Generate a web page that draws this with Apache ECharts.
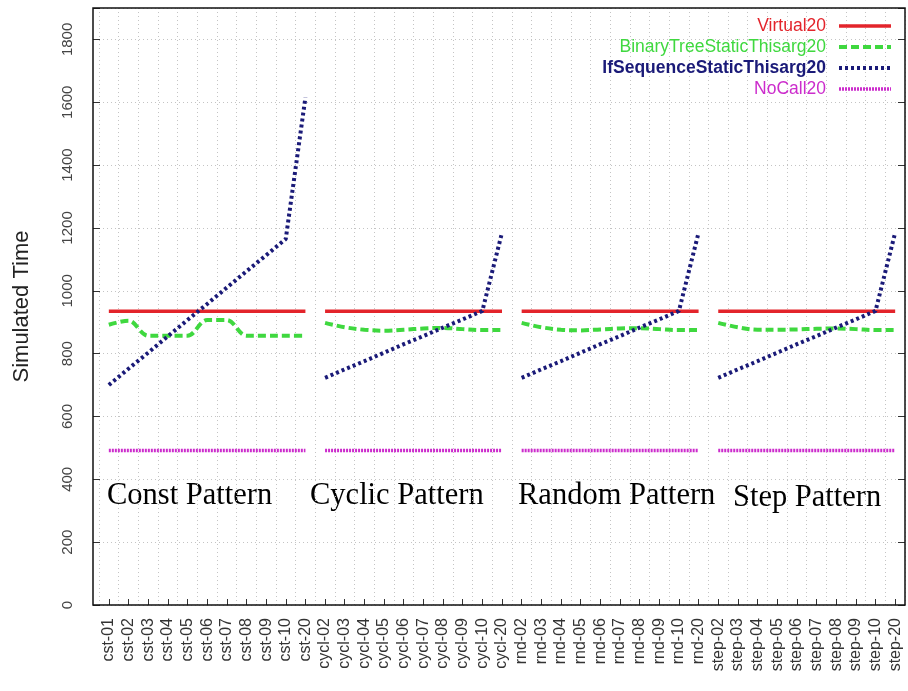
<!DOCTYPE html>
<html>
<head>
<meta charset="utf-8">
<script src="https://cdn.jsdelivr.net/npm/echarts@6/dist/echarts.min.js"></script>
<style>
html,body{margin:0;padding:0;background:#fff;}
#main{width:908px;height:691px;}
</style>
</head>
<body>
<div id="main"></div>
<script>
// categories per pattern group
var cstCats = ['cst-01','cst-02','cst-03','cst-04','cst-05','cst-06','cst-07','cst-08','cst-09','cst-10','cst-20'];
var cyclCats = ['cycl-02','cycl-03','cycl-04','cycl-05','cycl-06','cycl-07','cycl-08','cycl-09','cycl-10','cycl-20'];
var rndCats = ['rnd-02','rnd-03','rnd-04','rnd-05','rnd-06','rnd-07','rnd-08','rnd-09','rnd-10','rnd-20'];
var stepCats = ['step-02','step-03','step-04','step-05','step-06','step-07','step-08','step-09','step-10','step-20'];

// Virtual20
var virtCst = [935,935,935,935,935,935,935,935,935,935,935];
var virtCycl = [935,935,935,935,935,935,935,935,935,935];
var virtRnd = [935,935,935,935,935,935,935,935,935,935];
var virtStep = [935,935,935,935,935,935,935,935,935,935];
// BinaryTreeStaticThisarg20
var btCst = [892,905,857,857,857,907,907,857,857,857,857];
var btCycl = [898,884,876,873,876,880,882,878,875,875];
var btRnd = [898,884,876,874,877,880,881,878,875,875];
var btStep = [898,884,876,876,877,879,880,878,875,875];
// IfSequenceStaticThisarg20
var ifCst = [700,752,803,855,907,958,1010,1062,1113,1165,1615];
var ifCycl = [723,750,776,803,830,856,883,909,936,1185];
var ifRnd = [723,750,776,803,830,856,883,909,936,1185];
var ifStep = [723,750,776,803,830,856,883,909,936,1185];
// NoCall20
var ncCst = [492,492,492,492,492,492,492,492,492,492,492];
var ncCycl = [492,492,492,492,492,492,492,492,492,492];
var ncRnd = [492,492,492,492,492,492,492,492,492,492];
var ncStep = [492,492,492,492,492,492,492,492,492,492];

var yTicks = [0,200,400,600,800,1000,1200,1400,1600,1800];

var allCats = cstCats.concat(cyclCats, rndCats, stepCats);
var groupCats = [cstCats, cyclCats, rndCats, stepCats];

var seriesDefs = [
  {name:'Virtual20', color:'#e3242b', groups:[virtCst,virtCycl,virtRnd,virtStep], line:{width:3.5,type:'solid'}, smooth:false, bold:false},
  {name:'BinaryTreeStaticThisarg20', color:'#3fd83f', groups:[btCst,btCycl,btRnd,btStep], line:{width:4,type:[8,4]}, smooth:0.35, bold:false},
  {name:'IfSequenceStaticThisarg20', color:'#1a1a78', groups:[ifCst,ifCycl,ifRnd,ifStep], line:{width:4,type:[3,3]}, smooth:false, bold:true},
  {name:'NoCall20', color:'#cc2ccc', groups:[ncCst,ncCycl,ncRnd,ncStep], line:{width:3.5,type:[2,1]}, smooth:false, bold:false}
];

var series = [];
seriesDefs.forEach(function(d){
  d.groups.forEach(function(vals, gi){
    series.push({
      name: d.name,
      type: 'line',
      showSymbol: false,
      symbol: 'none',
      smooth: d.smooth,
      color: d.color,
      lineStyle: {color: d.color, width: d.line.width, type: d.line.type, cap: 'butt'},
      data: vals.map(function(v, i){ return [groupCats[gi][i], v]; }),
      animation: false
    });
  });
});

var myChart = echarts.init(document.getElementById('main'));
var option = {
  animation: false,
  backgroundColor: '#fff',
  grid: {left: 99, right: 3, top: 8, bottom: 86, show: false},
  legend: {
    orient: 'vertical',
    right: 10,
    top: 12,
    align: 'right',
    itemWidth: 52,
    itemHeight: 14,
    itemGap: 3,
    selectedMode: false,
    itemStyle: {opacity: 0},
    textStyle: {fontFamily: 'Liberation Sans', fontSize: 17.5, padding: [0, 8, 0, 0]},
    data: seriesDefs.map(function(d){
      return {
        name: d.name,
        textStyle: {color: d.color, fontWeight: d.bold ? 'bold' : 'normal'},
        lineStyle: {color: d.color, width: d.line.width, type: d.line.type}
      };
    })
  },
  xAxis: {
    type: 'category',
    data: allCats,
    boundaryGap: true,
    axisLine: {show: false},
    axisTick: {show: true, inside: true, alignWithLabel: true, length: 6, lineStyle: {color: '#333'}},
    axisLabel: {interval: 0, rotate: 90, fontFamily: 'Liberation Sans', fontSize: 16, color: '#333', margin: 13},
    splitLine: {show: true, interval: 0, lineStyle: {color: '#c4c4c4', type: [1, 3]}}
  },
  yAxis: [{
    type: 'value',
    min: 0,
    max: 1900,
    interval: 200,
    offset: 6,
    name: 'Simulated Time',
    nameLocation: 'middle',
    nameGap: 60,
    nameTextStyle: {fontFamily: 'Liberation Sans', fontSize: 22, color: '#222'},
    axisLine: {show: false},
    axisTick: {show: true, inside: true, length: 7, lineStyle: {color: '#333'}},
    axisLabel: {
      rotate: 90, fontFamily: 'Liberation Sans', fontSize: 15, color: '#444', margin: 18,
      formatter: function(v){ return yTicks.indexOf(v) >= 0 ? String(v) : ''; }
    },
    splitLine: {show: true, lineStyle: {color: '#c4c4c4', type: [1, 3]}}
  }, {
    type: 'value',
    position: 'right',
    min: 0,
    max: 1900,
    interval: 200,
    axisLine: {show: false},
    axisTick: {show: true, inside: true, length: 7, lineStyle: {color: '#333'}},
    axisLabel: {show: false},
    splitLine: {show: false}
  }],
  graphic: [
    {type: 'rect', shape: {x: 93, y: 8, width: 812, height: 597}, style: {fill: 'none', stroke: '#111', lineWidth: 1.5}, z: 10},
    {type: 'text', x: 107, y: 480, style: {text: 'Const Pattern', font: '30.5px "Liberation Serif"', fill: '#000'}},
    {type: 'text', x: 310, y: 480, style: {text: 'Cyclic Pattern', font: '30.5px "Liberation Serif"', fill: '#000'}},
    {type: 'text', x: 518, y: 480, style: {text: 'Random Pattern', font: '30.5px "Liberation Serif"', fill: '#000'}},
    {type: 'text', x: 733, y: 482, style: {text: 'Step Pattern', font: '30.5px "Liberation Serif"', fill: '#000'}}
  ],
  series: series
};
myChart.setOption(option);
</script>
</body>
</html>
